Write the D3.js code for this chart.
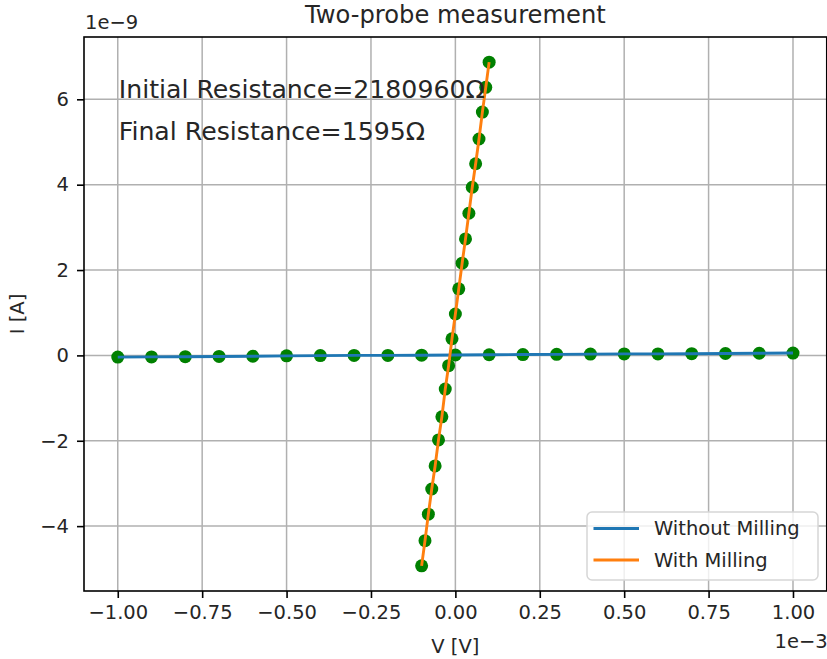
<!DOCTYPE html>
<html>
<head>
<meta charset="utf-8">
<script src="https://d3js.org/d3.v7.min.js"></script>
<style>
    body { margin: 0; background: #fff; }
    text { font-family: "DejaVu Sans", sans-serif; fill: #262626; }
</style>
</head>
<body>
<script>
    // voltage in 1e-3 V, current in 1e-9 A
    var vWithout = [-1.0, -0.9, -0.8, -0.7, -0.6, -0.5, -0.4, -0.3, -0.2, -0.1, 0.0,
                    0.1, 0.2, 0.3, 0.4, 0.5, 0.6, 0.7, 0.8, 0.9, 1.0];
    var iWithout = [-0.04, -0.035, -0.03, -0.025, -0.02, -0.01, -0.005, 0.0, 0.0, 0.005, 0.01,
                    0.015, 0.02, 0.025, 0.03, 0.035, 0.035, 0.04, 0.045, 0.05, 0.055];
    var vWith = [-0.10, -0.09, -0.08, -0.07, -0.06, -0.05, -0.04, -0.03, -0.02, -0.01, 0.00,
                 0.01, 0.02, 0.03, 0.04, 0.05, 0.06, 0.07, 0.08, 0.09, 0.10];
    var iWith = [-4.93, -4.34, -3.72, -3.13, -2.59, -1.98, -1.44, -0.79, -0.24, 0.39, 0.97,
                 1.56, 2.16, 2.73, 3.33, 3.94, 4.49, 5.07, 5.70, 6.28, 6.87];
    var xTicks = [-1.0, -0.75, -0.5, -0.25, 0, 0.25, 0.5, 0.75, 1.0];
    var yTicks = [-4, -2, 0, 2, 4, 6];
    var seriesNames = ["Without Milling", "With Milling"];
    var seriesColors = ["#1f77b4", "#ff7f0e"];
    var notes = ["Initial Resistance=2180960\u03a9", "Final Resistance=1595\u03a9"];

    const width = 827, height = 659;
    const mLeft = 84, mRight = 826.75, mTop = 37, mBottom = 591;

    const svg = d3.select("body").append("svg")
        .attr("width", width)
        .attr("height", height);

    // matplotlib style 5% margins
    var xAll = vWithout.concat(vWith), yAll = iWithout.concat(iWith);
    var xExt = d3.extent(xAll), yExt = d3.extent(yAll);
    var xPad = (xExt[1] - xExt[0]) * 0.05, yPad = (yExt[1] - yExt[0]) * 0.05;
    var x = d3.scaleLinear().domain([xExt[0] - xPad, xExt[1] + xPad]).range([mLeft, mRight]);
    var y = d3.scaleLinear().domain([yExt[0] - yPad, yExt[1] + yPad]).range([mBottom, mTop]);

    var minus = s => s.replace("-", "\u2212");

    // grid
    svg.append("g").selectAll("line").data(xTicks).enter().append("line")
        .attr("x1", d => x(d)).attr("x2", d => x(d))
        .attr("y1", mTop).attr("y2", mBottom)
        .attr("stroke", "#b0b0b0").attr("stroke-width", 1.5);
    svg.append("g").selectAll("line").data(yTicks).enter().append("line")
        .attr("y1", d => y(d)).attr("y2", d => y(d))
        .attr("x1", mLeft).attr("x2", mRight)
        .attr("stroke", "#b0b0b0").attr("stroke-width", 1.5);

    // axes
    var xAxis = d3.axisBottom(x).tickValues(xTicks).tickSize(7).tickPadding(7)
        .tickFormat(d => minus(d3.format(".2f")(d)));
    var yAxis = d3.axisLeft(y).tickValues(yTicks).tickSize(7).tickPadding(8)
        .tickFormat(d => minus(String(d)));

    var gx = svg.append("g").attr("transform", "translate(0," + mBottom + ")").call(xAxis);
    var gy = svg.append("g").attr("transform", "translate(" + mLeft + ",0)").call(yAxis);
    [gx, gy].forEach(g => {
        g.select(".domain").remove();
        g.selectAll(".tick line").attr("stroke", "#000").attr("stroke-width", 1.6);
        g.selectAll(".tick text").style("font-size", "19.5px").attr("fill", "#262626");
    });

    // scatter points
    var pts = vWithout.map((v, i) => [v, iWithout[i]])
        .concat(vWith.map((v, i) => [v, iWith[i]]));
    svg.append("g").selectAll("circle").data(pts).enter().append("circle")
        .attr("cx", d => x(d[0])).attr("cy", d => y(d[1]))
        .attr("r", 6.5).attr("fill", "green");

    // lines
    var line = d3.line().x(d => x(d[0])).y(d => y(d[1]));
    var lineData = [vWithout.map((v, i) => [v, iWithout[i]]), vWith.map((v, i) => [v, iWith[i]])];
    svg.append("g").selectAll("path").data(lineData).enter().append("path")
        .attr("d", line)
        .attr("fill", "none")
        .attr("stroke", (d, i) => seriesColors[i])
        .attr("stroke-width", 2.9);

    // spines
    svg.append("rect")
        .attr("x", mLeft).attr("y", mTop)
        .attr("width", mRight - mLeft).attr("height", mBottom - mTop)
        .attr("fill", "none").attr("stroke", "#000").attr("stroke-width", 1.6);

    // annotations
    svg.selectAll(".note").data(notes).enter().append("text")
        .attr("class", "note")
        .attr("x", x(-1.0) + 1)
        .attr("y", (d, i) => 98 + i * 42)
        .style("font-size", "25.2px")
        .text(d => d);

    // title and labels
    svg.append("text").attr("x", (mLeft + mRight) / 2).attr("y", 23)
        .attr("text-anchor", "middle").style("font-size", "24.2px")
        .text("Two-probe measurement");
    svg.append("text").attr("x", (mLeft + mRight) / 2).attr("y", 653)
        .attr("text-anchor", "middle").style("font-size", "19.5px")
        .text("V [V]");
    svg.append("text")
        .attr("transform", "translate(24," + ((mTop + mBottom) / 2) + ") rotate(-90)")
        .attr("text-anchor", "middle").style("font-size", "19.5px")
        .text("I [A]");
    svg.append("text").attr("x", mLeft + 1).attr("y", 29)
        .style("font-size", "19.5px").text("1e\u22129");
    svg.append("text").attr("x", mRight + 1).attr("y", 648)
        .attr("text-anchor", "end").style("font-size", "19.5px").text("1e\u22123");

    // legend
    var lg = svg.append("g").attr("transform", "translate(587,512)");
    lg.append("rect")
        .attr("width", 231).attr("height", 68).attr("rx", 5)
        .attr("fill", "rgba(255,255,255,0.8)").attr("stroke", "#d6d6d6").attr("stroke-width", 1.5);
    var items = lg.selectAll(".item").data(seriesNames).enter().append("g")
        .attr("transform", (d, i) => "translate(0," + (16.5 + i * 31.5) + ")");
    items.append("line")
        .attr("x1", 6.5).attr("x2", 52)
        .attr("stroke", (d, i) => seriesColors[i]).attr("stroke-width", 2.9);
    items.append("text")
        .attr("x", 67).attr("dy", "0.35em")
        .style("font-size", "19.5px")
        .text(d => d);
</script>
</body>
</html>
